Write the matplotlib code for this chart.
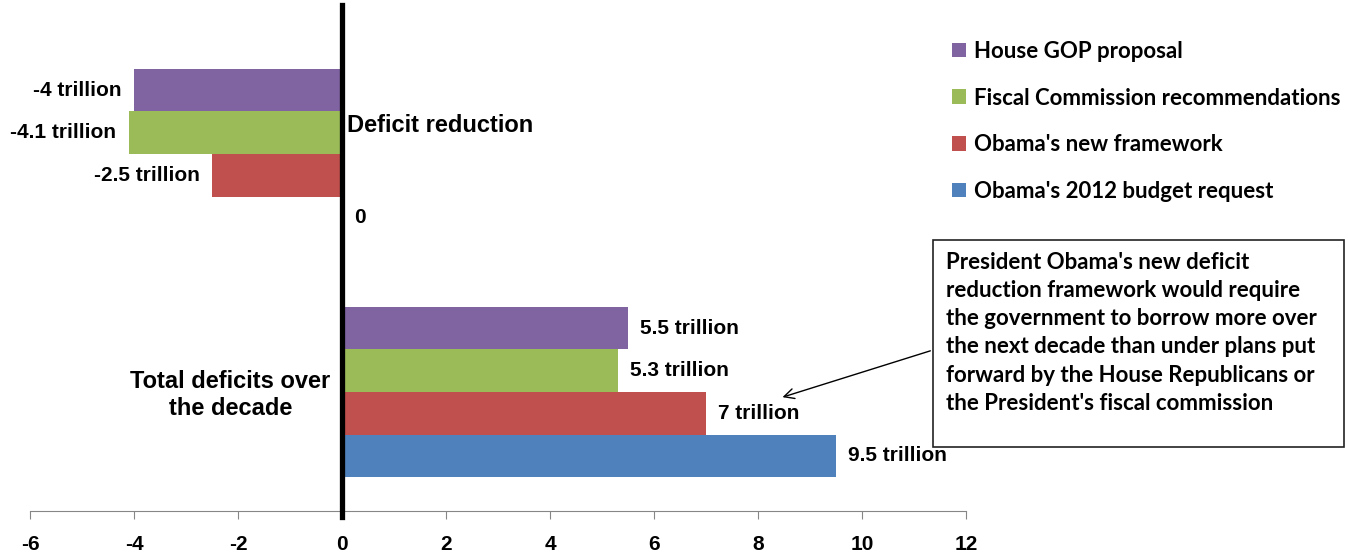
import matplotlib
matplotlib.use('Agg')
import matplotlib.pyplot as plt
from matplotlib.patches import Rectangle
from matplotlib import font_manager

# Deficit figures in trillions of dollars, one value per category
categories = ['Total deficits over\nthe decade', 'Deficit reduction']
budget_2012 = [9.5, 0]
new_framework = [7, -2.5]
fiscal_commission = [5.3, -4.1]
house_gop = [5.5, -4]

series_names = ["Obama's 2012 budget request", "Obama's new framework",
                "Fiscal Commission recommendations", "House GOP proposal"]
series_values = [budget_2012, new_framework, fiscal_commission, house_gop]
colors = ['#4F81BD', '#C0504D', '#9BBB59', '#8064A2']

xticks = [-6, -4, -2, 0, 2, 4, 6, 8, 10, 12]

note = ("President Obama's new deficit\n"
        "reduction framework would require\n"
        "the government to borrow more over\n"
        "the next decade than under plans put\n"
        "forward by the House Republicans or\n"
        "the President's fiscal commission")

names = {f.name for f in font_manager.fontManager.ttflist}
narrow = 'Liberation Sans Narrow' if 'Liberation Sans Narrow' in names else 'Liberation Sans'
plt.rcParams['font.family'] = [narrow, 'DejaVu Sans']

W, H = 1348, 554
fig = plt.figure(figsize=(W / 100, H / 100), dpi=100)
ax = fig.add_axes([30 / W, (H - 511) / H, 936 / W, 476 / H])

h = 0.1786
pos = range(len(categories))
bars = []
for i, (name, vals, c) in enumerate(zip(series_names, series_values, colors)):
    off = (i - 1.5) * h
    b = ax.barh([p + off for p in pos], vals, height=h, color=c, label=name)
    bars.append(b)
    labels = ['0' if v == 0 else f'{v:g} trillion' for v in vals]
    ax.bar_label(b, labels=labels, padding=9, fontsize=15, fontweight='bold')

ax.set_xlim(-6, 12)
ax.set_ylim(-0.5, 1.5)
ax.set_xticks(xticks)
ax.set_xticklabels([str(t) for t in xticks], fontsize=15, fontweight='bold')
ax.tick_params(axis='x', length=6, color='#868686', pad=11)
ax.set_yticks([])
for s in ['top', 'right', 'left']:
    ax.spines[s].set_visible(False)
ax.spines['bottom'].set_color('#868686')

# thick zero line running above the plot area
ax.axvline(0, ymin=-0.012, ymax=1 + 30 / 476, color='black', lw=3.8, clip_on=False, zorder=5)

# category names sit beside the zero line
ax.text(0.1, 1.5 - (126 - 35) / 476 * 2, categories[1], fontsize=17, fontweight='bold',
        ha='left', va='center')
ax.text(-2.15, 1.5 - (395 - 35) / 476 * 2, categories[0], fontsize=17, fontweight='bold',
        ha='center', va='center', linespacing=1.25)

leg = fig.legend(handles=bars[::-1], loc='upper left', bbox_to_anchor=(932 / W, 1 - 21 / H),
                 frameon=False, handlelength=0.63, handleheight=0.63, handletextpad=0.35,
                 labelspacing=1.15, prop={'family': 'Lato', 'weight': 'bold', 'size': 16})

fig.patches.append(Rectangle((933 / W, (H - 447) / H), 411 / W, 207 / H,
                             transform=fig.transFigure, fill=False, ec='#222222', lw=1.2))
fig.text(946 / W, 1 - 252 / H, note, ha='left', va='top', fontsize=16,
         family='Lato', fontweight='bold', linespacing=1.42)

ax.annotate('', xy=(8.42, 1.5 - (398 - 35) / 476 * 2), xycoords='data',
            xytext=(933, H - 350), textcoords='figure pixels',
            arrowprops=dict(arrowstyle='->', color='black', lw=1, mutation_scale=18))

fig.savefig('out.png', dpi=100)
